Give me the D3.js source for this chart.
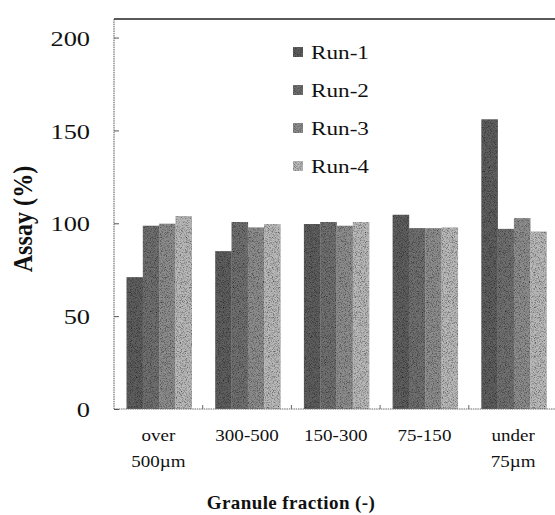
<!DOCTYPE html>
<html>
<head>
<meta charset="utf-8">
<script src="https://cdn.jsdelivr.net/npm/d3@7"></script>
<style>
  body { margin: 0; background: #fff; }
  svg { display: block; }
  svg text { font-family: "Liberation Serif", "Times New Roman", Times, serif !important; }
</style>
</head>
<body>
<div id="chart"></div>
<script>
// categories and values
const fractions = [["over", "500µm"], ["300-500"], ["150-300"], ["75-150"], ["under", "75µm"]];
const runs = ["Run-1", "Run-2", "Run-3", "Run-4"];
const run1 = [71, 85, 99.6, 104.6, 156];
const run2 = [98.7, 100.7, 100.7, 97.4, 97];
const run3 = [99.8, 97.8, 98.7, 97.4, 102.8];
const run4 = [103.9, 99.6, 100.7, 97.8, 95.6];
const yTicks = [0, 50, 100, 150, 200];

const series = [run1, run2, run3, run4];
const colors = ["#5e5e5e", "#6f6f6f", "#8d8d8d", "#b9b9b9"];

const W = 555, H = 515;
const mLeft = 114, mTop = 19, mBottom = 409, mRight = 557.5;

const svg = d3.select("#chart").append("svg")
    .attr("width", W).attr("height", H);

// grain filter for the speckled print look
const defs = svg.append("defs");
const f = defs.append("filter").attr("id", "grain").attr("x", 0).attr("y", 0).attr("width", 1).attr("height", 1);
f.append("feTurbulence").attr("type", "fractalNoise").attr("baseFrequency", 1.2).attr("numOctaves", 1).attr("seed", 3).attr("result", "n");
f.append("feColorMatrix").attr("in", "n").attr("type", "matrix")
    .attr("values", "0 0 0 0 0  0 0 0 0 0  0 0 0 0 0  0 0 0 -2.2 1.25").attr("result", "na");
f.append("feComposite").attr("in", "na").attr("in2", "SourceGraphic").attr("operator", "in").attr("result", "nm");
f.append("feComposite").attr("in", "nm").attr("in2", "SourceGraphic").attr("operator", "atop");

const keys = fractions.map(d => d.join(" "));
const x0 = d3.scaleBand().domain(keys).range([mLeft, mRight]).padding(0);
const x1 = d3.scaleBand().domain(runs).range([12.5, x0.bandwidth() - 11]).padding(0);
const y = d3.scaleLinear().domain([0, 210]).range([mBottom, mTop]);

// bars
const groups = svg.append("g").selectAll("g").data(keys).join("g")
    .attr("transform", d => `translate(${x0(d)},0)`);
groups.selectAll("rect")
    .data((d, i) => runs.map((r, j) => ({ run: r, value: series[j][i], color: colors[j] })))
    .join("rect")
    .attr("x", d => x1(d.run))
    .attr("width", x1.bandwidth() + 0.3)
    .attr("y", d => y(d.value))
    .attr("height", d => y(0) - y(d.value))
    .attr("fill", d => d.color)
    .attr("filter", "url(#grain)");

// frame
svg.append("line").attr("x1", mLeft).attr("x2", W).attr("y1", mTop).attr("y2", mTop)
    .attr("stroke", "#222").attr("stroke-width", 1.4);
svg.append("line").attr("x1", mLeft).attr("x2", mLeft).attr("y1", mTop).attr("y2", mBottom)
    .attr("stroke", "#555").attr("stroke-width", 1).attr("stroke-dasharray", "1.5,0.8");
svg.append("line").attr("x1", mLeft).attr("x2", W).attr("y1", mBottom).attr("y2", mBottom)
    .attr("stroke", "#666").attr("stroke-width", 1).attr("stroke-dasharray", "1.5,0.8");

// y axis ticks + labels
const yAxis = d3.axisLeft(y).tickValues(yTicks).tickSize(-5).tickPadding(24);
const ya = svg.append("g").attr("transform", `translate(${mLeft},0)`).call(yAxis);
ya.select(".domain").remove();
ya.selectAll(".tick line").attr("stroke", "#555");
ya.selectAll(".tick text")
    .attr("font-size", 22).attr("fill", "#111")
    .attr("dy", "0.35em")
    .attr("transform", function () { const xx = +d3.select(this).attr("x"); return `translate(${xx * -0.2},0) scale(1.2,1)`; });

// x boundary ticks
svg.append("g").selectAll("line").data(keys.slice(1)).join("line")
    .attr("x1", d => x0(d)).attr("x2", d => x0(d))
    .attr("y1", mBottom).attr("y2", mBottom - 4)
    .attr("stroke", "#666");

// x category labels
const xl = svg.append("g").selectAll("text").data(fractions).join("text")
    .attr("transform", (d, i) => `translate(${x0(keys[i]) + x0.bandwidth() / 2},441) scale(1.12,1)`)
    .attr("text-anchor", "middle").attr("font-size", 17).attr("fill", "#111");
xl.selectAll("tspan").data(d => d).join("tspan")
    .attr("x", 0).attr("y", (d, i) => i * 26).text(d => d);

// legend
const lg = svg.append("g").selectAll("g").data(runs).join("g")
    .attr("transform", (d, i) => `translate(293,${52 + i * 38})`);
lg.append("rect").attr("x", 0).attr("y", -5).attr("width", 10).attr("height", 10)
    .attr("fill", (d, i) => colors[i]).attr("filter", "url(#grain)");
lg.append("text").attr("transform", "translate(18,7) scale(1.22,1)")
    .attr("font-size", 19).attr("fill", "#111").text(d => d);

// axis titles
svg.append("text").attr("transform", "translate(291,509)")
    .attr("text-anchor", "middle").attr("font-size", 19).attr("font-weight", "bold")
    .attr("letter-spacing", 0.4).attr("fill", "#111").text("Granule fraction (-)");
svg.append("text").attr("transform", "translate(32,219) rotate(-90) scale(1.15,1.25)")
    .attr("text-anchor", "middle").attr("font-size", 21).attr("font-weight", "bold")
    .attr("fill", "#111").text("Assay (%)");
</script>
</body>
</html>
